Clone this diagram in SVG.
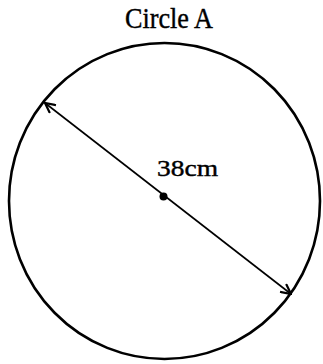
<svg xmlns="http://www.w3.org/2000/svg" width="323" height="364" viewBox="0 0 323 364">
<style>
.lbl{font-family:"Liberation Serif","Times New Roman",serif;fill:#000;stroke:#000;stroke-width:0.4}
.shape{fill:none;stroke:#000;stroke-width:2.6}
.conn{stroke:#000;stroke-width:1.6;fill:none}
</style>
<defs>
<marker id="ah" viewBox="0 0 12 12" refX="11" refY="6" markerWidth="12" markerHeight="12" markerUnits="userSpaceOnUse" orient="auto-start-reverse">
<polyline points="1,1 11,6 1,11" fill="none" stroke="#000" stroke-width="2.2"/>
</marker>
</defs>
<rect width="323" height="364" fill="#fff"/>
<g id="circleA">
<ellipse class="shape" cx="164.5" cy="201" rx="155.5" ry="158"/>
<text class="lbl" x="125" y="28" font-size="29" textLength="88" lengthAdjust="spacingAndGlyphs">Circle A</text>
</g>
<g id="center">
<circle cx="163.5" cy="196.5" r="4" fill="#000"/>
</g>
<g id="connectors">
<line class="conn" x1="45" y1="103" x2="291" y2="294" marker-start="url(#ah)" marker-end="url(#ah)"/>
</g>
<g id="label">
<text class="lbl" x="157" y="176" font-size="22.5" textLength="61" lengthAdjust="spacingAndGlyphs">38cm</text>
</g>
</svg>
